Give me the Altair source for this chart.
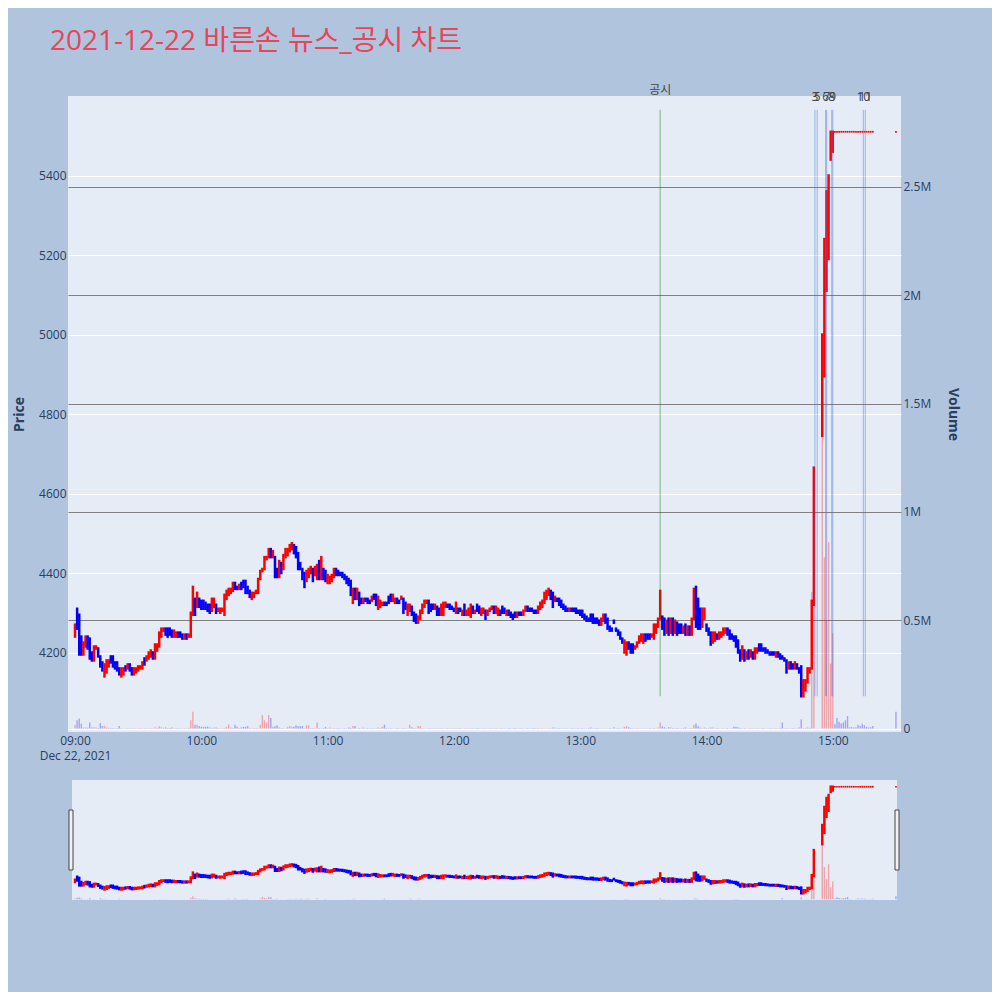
""" Intraday 1-minute candle chart of 바른손 on 2021-12-22 with news / disclosure markers """

import altair as alt
import pandas as pd

DAY = "2021-12-22"
TITLE = "2021-12-22 바른손 뉴스_공시 차트"

UP_COLOR = "#FF0000"
DOWN_COLOR = "#0000FF"

# 1-minute candles (won), one list per hour, index = minute of the hour
# None = no trade (volatility interruption)
OPEN_09 = [4240, 4310, 4295, 4240, 4195, 4215, 4240, 4235, 4200, 4180,
           4210, 4210, 4190, 4175, 4140, 4150, 4165, 4190, 4190, 4175,
           4175, 4160, 4140, 4145, 4165, 4160, 4170, 4160, 4145, 4150,
           4155, 4160, 4160, 4185, 4180, 4185, 4190, 4200, 4185, 4205,
           4215, 4240, 4255, 4260, 4260, 4260, 4255, 4240, 4240, 4250,
           4250, 4245, 4235, 4245, 4240, 4240, 4295, 4335, 4315, 4335]
CLOSE_09 = [4270, 4260, 4195, 4195, 4225, 4240, 4210, 4185, 4180, 4215,
            4215, 4190, 4165, 4155, 4170, 4180, 4180, 4175, 4165, 4160,
            4155, 4145, 4160, 4160, 4155, 4170, 4155, 4145, 4160, 4160,
            4165, 4165, 4175, 4170, 4190, 4200, 4205, 4185, 4220, 4220,
            4250, 4260, 4260, 4245, 4240, 4245, 4240, 4255, 4250, 4240,
            4240, 4235, 4245, 4235, 4245, 4300, 4365, 4295, 4350, 4315]

OPEN_10 = [4330, 4330, 4325, 4320, 4320, 4305, 4315, 4320, 4305, 4300,
           4305, 4295, 4335, 4345, 4350, 4355, 4375, 4365, 4360, 4375,
           4380, 4380, 4365, 4355, 4335, 4340, 4350, 4350, 4385, 4405,
           4410, 4435, 4440, 4460, 4440, 4440, 4410, 4390, 4425, 4410,
           4440, 4445, 4455, 4460, 4470, 4465, 4450, 4425, 4410, 4400,
           4380, 4390, 4400, 4410, 4395, 4385, 4430, 4385, 4410, 4405]
CLOSE_10 = [4310, 4310, 4310, 4305, 4300, 4335, 4335, 4300, 4310, 4310,
            4310, 4345, 4355, 4360, 4360, 4375, 4360, 4360, 4370, 4360,
            4365, 4350, 4350, 4340, 4350, 4350, 4355, 4385, 4405, 4410,
            4440, 4440, 4460, 4440, 4455, 4390, 4390, 4430, 4400, 4445,
            4460, 4460, 4470, 4475, 4450, 4440, 4410, 4410, 4385, 4365,
            4405, 4410, 4415, 4380, 4415, 4420, 4385, 4440, 4385, 4380]

OPEN_11 = [4375, 4375, 4380, 4390, 4410, 4405, 4400, 4400, 4395, 4390,
           4385, 4380, 4325, 4360, 4335, 4350, 4335, 4325, 4335, 4335,
           4330, 4330, 4345, 4345, 4310, 4315, 4320, 4325, 4325, 4340,
           4345, 4330, 4325, 4335, 4330, 4335, 4335, 4325, 4295, 4305,
           4315, 4300, 4295, 4275, 4285, 4300, 4315, 4325, 4330, 4320,
           4320, 4310, 4315, 4310, 4295, 4295, 4315, 4320, 4320, 4315]
CLOSE_11 = [4395, 4390, 4395, 4410, 4395, 4395, 4395, 4390, 4385, 4375,
            4370, 4345, 4360, 4335, 4360, 4320, 4325, 4335, 4330, 4325,
            4325, 4340, 4335, 4320, 4340, 4330, 4325, 4320, 4320, 4325,
            4330, 4345, 4335, 4325, 4325, 4340, 4300, 4310, 4320, 4320,
            4295, 4280, 4275, 4290, 4305, 4320, 4330, 4330, 4300, 4305,
            4310, 4320, 4295, 4295, 4320, 4325, 4325, 4315, 4310, 4310]

OPEN_12 = [4310, 4300, 4310, 4310, 4295, 4320, 4295, 4295, 4290, 4315,
           4300, 4320, 4315, 4295, 4300, 4305, 4295, 4305, 4310, 4315,
           4300, 4295, 4305, 4315, 4310, 4295, 4305, 4300, 4295, 4300,
           4290, 4300, 4300, 4295, 4305, 4315, 4310, 4310, 4305, 4305,
           4300, 4310, 4315, 4325, 4335, 4345, 4355, 4350, 4330, 4335,
           4335, 4330, 4320, 4315, 4310, 4305, 4310, 4310, 4310, 4305]
CLOSE_12 = [4305, 4325, 4300, 4305, 4305, 4295, 4305, 4310, 4320, 4300,
            4305, 4305, 4300, 4310, 4310, 4285, 4305, 4310, 4315, 4300,
            4315, 4310, 4295, 4300, 4300, 4305, 4295, 4290, 4285, 4290,
            4300, 4295, 4295, 4305, 4315, 4305, 4305, 4305, 4300, 4300,
            4315, 4325, 4330, 4350, 4355, 4360, 4335, 4315, 4340, 4330,
            4320, 4315, 4310, 4305, 4305, 4310, 4305, 4305, 4300, 4300]

OPEN_13 = [4305, 4305, 4295, 4290, 4285, 4295, 4295, 4285, 4285, 4280,
           4270, 4280, 4295, 4285, 4265, 4260, 4280, 4260, 4255, 4250,
           4235, 4200, 4195, 4225, 4220, 4220, 4210, 4215, 4225, 4230,
           4225, 4245, 4245, 4245, 4240, 4235, 4250, 4265, 4285, 4290,
           4285, 4250, 4285, 4250, 4285, 4250, 4275, 4270, 4270, 4250,
           4270, 4245, 4265, 4245, 4285, 4365, 4335, 4310, 4265, 4285]
CLOSE_13 = [4295, 4290, 4285, 4280, 4280, 4280, 4275, 4275, 4275, 4270,
            4285, 4295, 4275, 4260, 4255, 4255, 4275, 4255, 4245, 4235,
            4225, 4230, 4225, 4210, 4200, 4200, 4215, 4225, 4240, 4245,
            4245, 4230, 4235, 4235, 4245, 4270, 4270, 4285, 4355, 4260,
            4245, 4280, 4245, 4285, 4245, 4280, 4245, 4250, 4250, 4265,
            4245, 4265, 4245, 4285, 4360, 4265, 4260, 4260, 4310, 4310]

OPEN_14 = [4270, 4260, 4250, 4225, 4230, 4245, 4235, 4240, 4245, 4250,
           4260, 4255, 4245, 4240, 4240, 4230, 4205, 4185, 4205, 4185,
           4205, 4190, 4200, 4185, 4200, 4220, 4220, 4210, 4210, 4205,
           4200, 4200, 4200, 4190, 4200, 4195, 4190, 4185, 4180, 4160,
           4175, 4170, 4160, 4170, 4160, 4165, 4090, 4105, 4125, 4150,
           4160, 4320, None, None, None, 4745, 4895, 5110, 5190, 5440]
CLOSE_14 = [4255, 4245, 4220, 4250, 4250, 4235, 4250, 4250, 4260, 4260,
            4245, 4235, 4235, 4230, 4215, 4200, 4180, 4215, 4180, 4200,
            4185, 4205, 4185, 4210, 4210, 4205, 4205, 4205, 4200, 4200,
            4195, 4195, 4195, 4200, 4190, 4185, 4185, 4180, 4150, 4175,
            4160, 4160, 4175, 4160, 4150, 4090, 4130, 4130, 4160, 4160,
            4330, 4665, None, None, None, 5000, 5240, 5360, 5400, 5510]

# 15:00 - 15:19, locked at the upper limit
OPEN_15 = [5460, 5510, 5510, 5510, 5510, 5510, 5510, 5510, 5510, 5510,
           5510, 5510, 5510, 5510, 5510, 5510, 5510, 5510, 5510, 5510]
CLOSE_15 = [5510, 5510, 5510, 5510, 5510, 5510, 5510, 5510, 5510, 5510,
            5510, 5510, 5510, 5510, 5510, 5510, 5510, 5510, 5510, 5510]

# volume, thousand shares
VOL_09 = [18, 38, 46, 23, 5, 5, 4, 28, 5, 6, 5, 2, 25, 11, 12, 5, 3, 2, 2, 1,
          2, 12, 2, 1, 1, 2, 1, 1, 2, 1, 1, 2, 1, 1, 2, 1, 2, 1, 6, 2,
          11, 6, 3, 5, 2, 2, 5, 1, 2, 1, 1, 1, 2, 1, 3, 38, 77, 18, 18, 12]
VOL_10 = [8, 8, 8, 9, 5, 2, 5, 5, 2, 1, 2, 2, 8, 18, 5, 2, 18, 8, 2, 5,
          8, 8, 11, 2, 1, 2, 2, 1, 18, 62, 38, 28, 62, 49, 8, 11, 15, 5, 2, 2,
          1, 8, 12, 8, 8, 15, 11, 12, 12, 2, 15, 15, 2, 2, 1, 28, 2, 1, 2, 8]
VOL_11 = [2, 5, 1, 2, 1, 2, 1, 1, 2, 1, 5, 2, 12, 12, 1, 2, 1, 5, 1, 2,
          1, 2, 1, 1, 5, 2, 8, 18, 2, 1, 2, 1, 1, 2, 1, 1, 2, 1, 1, 18,
          6, 2, 1, 12, 12, 2, 1, 1, 2, 1, 1, 2, 1, 1, 2, 1, 1, 2, 1, 1]
VOL_12 = [1, 2, 1, 2, 1, 1, 2, 1, 2, 1, 1, 2, 1, 1, 2, 1, 1, 2, 1, 1,
          2, 1, 1, 2, 1, 1, 2, 1, 1, 2, 1, 1, 2, 1, 1, 2, 1, 1, 2, 1,
          2, 1, 2, 1, 1, 2, 1, 5, 5, 1, 2, 1, 1, 2, 1, 1, 2, 1, 1, 2]
VOL_13 = [1, 2, 1, 1, 2, 5, 1, 1, 2, 1, 1, 2, 1, 1, 2, 1, 6, 1, 2, 1,
          1, 8, 11, 6, 2, 1, 1, 2, 1, 1, 2, 1, 1, 2, 1, 2, 1, 5, 28, 11,
          6, 2, 6, 5, 2, 1, 2, 1, 1, 2, 5, 1, 2, 2, 18, 23, 11, 5, 2, 5]
VOL_14 = [2, 1, 5, 5, 1, 2, 1, 1, 2, 1, 2, 1, 1, 8, 8, 6, 2, 1, 2, 1,
          1, 2, 1, 1, 2, 1, 1, 2, 1, 1, 2, 1, 1, 2, 1, 2, 28, 1, 2, 1,
          1, 2, 1, 1, 5, 43, 2, 2, 5, 3, 630, 950, None, None, None, 1800, 790, 500, 860, 300]
VOL_15 = [440, 20, 49, 31, 23, 28, 38, 58, 6, 6, 5, 6, 18, 12, 22, 15, 8, 5, 6, 12]

# closing single-price auction
CLOSING_TIME = "15:30"
CLOSING_PRICE = 5510
CLOSING_VOLUME = 77

# markers
DISCLOSURE_TIME = "13:38:00"
DISCLOSURE_LABEL = "공시"
NEWS_TIMES = ["14:51:30", "14:52:35", "14:56:35", "14:57:05",
              "14:59:30", "15:00:00", "15:14:30", "15:15:25"]
NEWS_LABELS = ["3", "5", "6", "7", "8", "9", "10", "11"]

# axes
PRICE_DOMAIN = [4000, 5600]
PRICE_TICKS = [4200, 4400, 4600, 4800, 5000, 5200, 5400]
VOLUME_DOMAIN = [-16000, 2920000]
VOLUME_TICKS = [0, 500000, 1000000, 1500000, 2000000, 2500000]
HOUR_TICKS = [9, 10, 11, 12, 13, 14, 15]

# layout (px, relative to plot area)
PLOT_W, PLOT_H = 833, 636
SLIDER_TOP, SLIDER_BOTTOM = 684, 804


hour_blocks = [
    (9, OPEN_09, CLOSE_09, VOL_09),
    (10, OPEN_10, CLOSE_10, VOL_10),
    (11, OPEN_11, CLOSE_11, VOL_11),
    (12, OPEN_12, CLOSE_12, VOL_12),
    (13, OPEN_13, CLOSE_13, VOL_13),
    (14, OPEN_14, CLOSE_14, VOL_14),
    (15, OPEN_15, CLOSE_15, VOL_15),
]
rows = []
for hour, opens, closes, vols in hour_blocks:
    for minute, (o, c, v) in enumerate(zip(opens, closes, vols)):
        if o is None:
            continue
        rows.append({"t": f"{DAY}T{hour:02d}:{minute:02d}:00",
                     "open": o, "close": c, "volume": v * 1000})
rows.append({"t": f"{DAY}T{CLOSING_TIME}:00", "open": CLOSING_PRICE,
             "close": CLOSING_PRICE, "volume": CLOSING_VOLUME * 1000})
candles = pd.DataFrame(rows)

# plotly rule: a flat candle keeps the previous direction
candle_colors, prev = [], UP_COLOR
for o, c in zip(candles["open"], candles["close"]):
    if c != o:
        prev = UP_COLOR if c > o else DOWN_COLOR
    candle_colors.append(prev)
candles["candle_color"] = candle_colors
candles["volume_color"] = [UP_COLOR if c > o else DOWN_COLOR
                           for o, c in zip(candles["open"], candles["close"])]

day_low = candles[["open", "close"]].min().min()
day_high = candles[["open", "close"]].max().max()

markers = pd.DataFrame({
    "t": [f"{DAY}T{DISCLOSURE_TIME}"] + [f"{DAY}T{t}" for t in NEWS_TIMES],
    "label": [DISCLOSURE_LABEL] + NEWS_LABELS,
    "kind": ["disclosure"] + ["news"] * len(NEWS_TIMES),
})
markers["lo"] = day_low
markers["hi"] = day_high * 1.01
markers["line_color"] = ["rgba(0,128,0,0.3)" if k == "disclosure" else "rgba(65,105,225,0.45)"
                         for k in markers["kind"]]
markers["line_width"] = [1.6 if k == "disclosure" else 1 for k in markers["kind"]]


def dt(h, m=0, s=0):
    return alt.DateTime(year=2021, month=12, date=22, hours=h, minutes=m, seconds=s)


x_enc = alt.X(
    "t:T",
    scale=alt.Scale(domain=[dt(8, 56, 40), dt(15, 32, 24)]),
    axis=alt.Axis(
        values=[dt(h) for h in HOUR_TICKS],
        labelExpr="hours(datum.value) == 9 ? ['09:00', 'Dec 22, 2021'] : timeFormat(datum.value, '%H:%M')",
        grid=False, ticks=False, domain=False, labelPadding=3,
        labelLineHeight=15, labelFlush=False, labelOverlap=False, title=None,
    ),
)

price_scale = alt.Scale(domain=PRICE_DOMAIN, nice=False, zero=False)
slider_price_scale = alt.Scale(domain=PRICE_DOMAIN, nice=False, zero=False,
                               range=[SLIDER_BOTTOM, SLIDER_TOP])
volume_scale = alt.Scale(domain=VOLUME_DOMAIN, nice=False, zero=False)
slider_volume_scale = alt.Scale(domain=VOLUME_DOMAIN, nice=False, zero=False,
                                range=[SLIDER_BOTTOM, SLIDER_TOP])

price_axis = alt.Axis(orient="left", values=PRICE_TICKS, format="d", title="Price",
                      grid=True, gridColor="white", gridWidth=1, ticks=False,
                      domain=False, labelPadding=2, titlePadding=12)
volume_axis = alt.Axis(
    orient="right", values=VOLUME_TICKS, title="Volume",
    labelExpr="datum.value == 0 ? '0' : format(datum.value / 1000000, '~g') + 'M'",
    grid=True, gridColor={"condition": {"test": "datum.value === 0", "value": "white"}, "value": "#808080"},
    gridWidth=1, ticks=False, domain=False, labelPadding=2, titlePadding=15,
)


def volume_layer(scale, axis):
    return (
        alt.Chart(candles)
        .mark_rule(strokeWidth=1.4, opacity=0.3)
        .encode(
            x=x_enc,
            y=alt.Y("volume:Q", scale=scale, axis=axis),
            y2=alt.datum(0),
            color=alt.Color("volume_color:N", scale=None),
        )
    )


def body_layer(scale, axis):
    return (
        alt.Chart(candles)
        .transform_filter("datum.open != datum.close")
        .mark_rule(strokeWidth=2.5, strokeCap="square")
        .encode(
            x=x_enc,
            y=alt.Y("open:Q", scale=scale, axis=axis),
            y2="close:Q",
            color=alt.Color("candle_color:N", scale=None),
        )
    )


def flat_layer(scale):
    return (
        alt.Chart(candles)
        .transform_filter("datum.open == datum.close")
        .mark_square(size=3, opacity=1)
        .encode(
            x=x_enc,
            y=alt.Y("close:Q", scale=scale, axis=None),
            color=alt.Color("candle_color:N", scale=None),
        )
    )


marker_lines = (
    alt.Chart(markers)
    .mark_rule()
    .encode(
        x=x_enc,
        y=alt.Y("lo:Q", scale=price_scale, axis=None),
        y2="hi:Q",
        color=alt.Color("line_color:N", scale=None),
        strokeWidth=alt.StrokeWidth("line_width:Q", scale=None),
    )
)


def marker_text(kind, dy):
    return (
        alt.Chart(markers)
        .transform_filter(f"datum.kind == '{kind}'")
        .mark_text(baseline="bottom", dy=dy, fontSize=12, color="#444",
                   font="Open Sans, Noto Sans CJK KR")
        .encode(
            x=x_enc,
            y=alt.Y("hi:Q", scale=price_scale, axis=None),
            text="label:N",
        )
    )


one_row = pd.DataFrame({"k": [0]})

# chart title, drawn as text above the plot area
title_text = alt.Chart(one_row).mark_text(
    text=TITLE, align="left", baseline="alphabetic", fontSize=28,
    color="#E6455A", font="Open Sans, Noto Sans CJK KR",
).encode(x=alt.value(-18), y=alt.value(-46))

slider_bg = alt.Chart(one_row).mark_rect(color="#E5ECF6").encode(
    x=alt.value(4), x2=alt.value(PLOT_W - 4),
    y=alt.value(SLIDER_TOP), y2=alt.value(SLIDER_BOTTOM),
)
handle_left = alt.Chart(one_row).mark_rect(fill="#f2f2f2", stroke="#444", strokeWidth=1).encode(
    x=alt.value(1), x2=alt.value(5), y=alt.value(SLIDER_TOP + 30), y2=alt.value(SLIDER_BOTTOM - 30),
)
handle_right = alt.Chart(one_row).mark_rect(fill="#f2f2f2", stroke="#444", strokeWidth=1).encode(
    x=alt.value(PLOT_W - 6), x2=alt.value(PLOT_W - 2), y=alt.value(SLIDER_TOP + 30), y2=alt.value(SLIDER_BOTTOM - 30),
)

chart = (
    alt.layer(
        volume_layer(volume_scale, volume_axis),
        body_layer(price_scale, price_axis),
        flat_layer(price_scale),
        marker_lines,
        marker_text("disclosure", -13),
        marker_text("news", -6),
        title_text,
        slider_bg,
        volume_layer(slider_volume_scale, None),
        body_layer(slider_price_scale, None),
        flat_layer(slider_price_scale),
        handle_left,
        handle_right,
    )
    .resolve_scale(y="independent")
    .properties(
        width=PLOT_W,
        height=PLOT_H,
        autosize=alt.AutoSizeParams(type="none"),
        padding={"left": 60, "top": 88, "right": 91, "bottom": 260},
    )
    .configure(background="#B0C4DE")
    .configure_view(fill="#E5ECF6", stroke=None)
    .configure_axis(labelFont="Open Sans", labelFontSize=12, labelColor="#2a3f5f",
                    titleFont="Open Sans", titleFontSize=14, titleColor="#2a3f5f",
                    titleFontWeight="bold")
)

chart.save("out.html", embed_options={"renderer": "svg", "actions": False})
